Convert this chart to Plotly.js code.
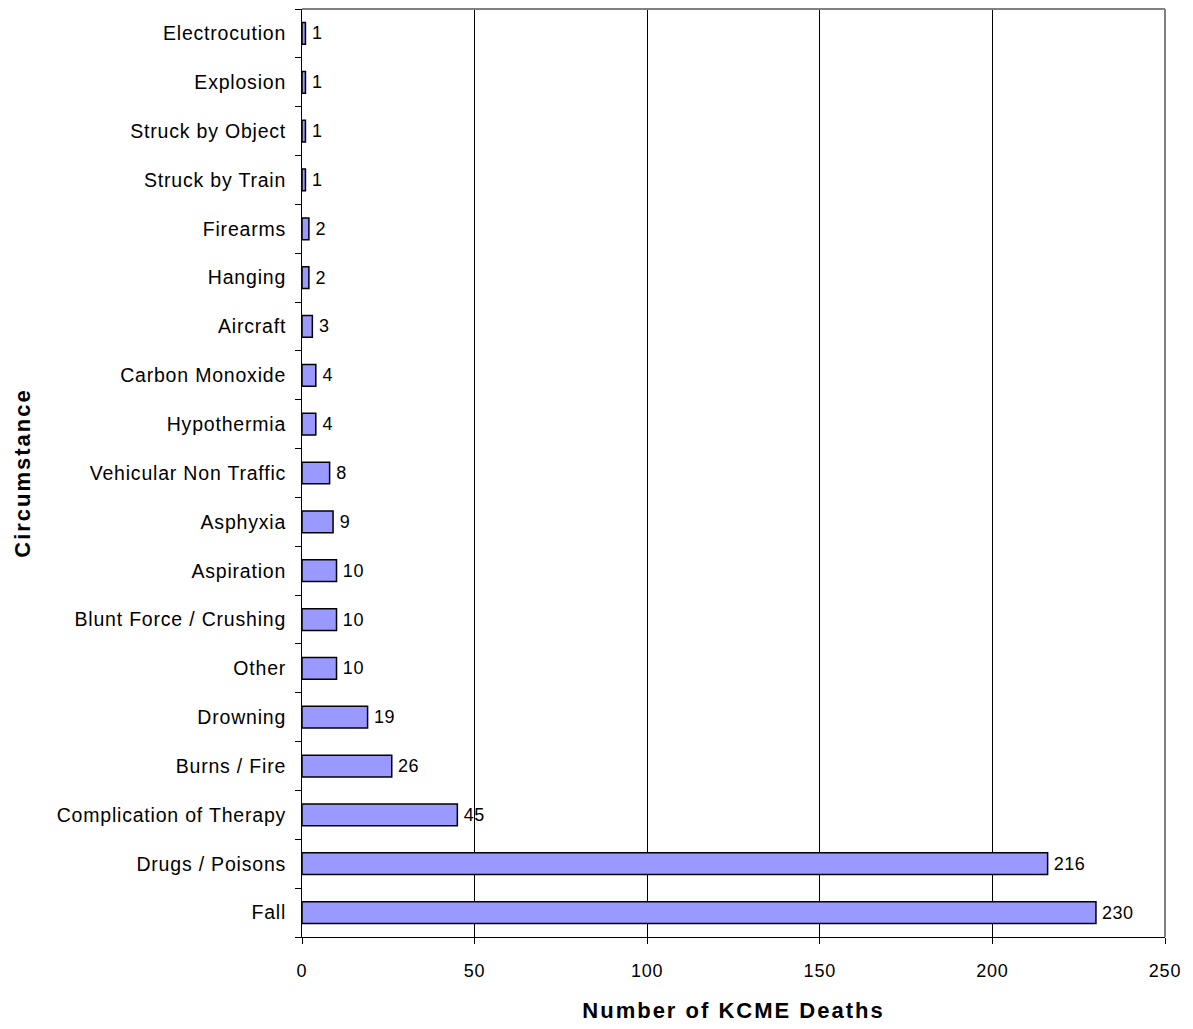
<!DOCTYPE html>
<html>
<head>
<meta charset="utf-8">
<script src="https://cdn.plot.ly/plotly-3.0.1.min.js"></script>
<style>
html,body{margin:0;padding:0;background:#fff;}
#chart{width:1193px;height:1029px;}
#chart .ytick text{letter-spacing:0.8px;}
#chart .xtick text{letter-spacing:0.8px;}
#chart .bartext{letter-spacing:0.5px;}
#chart .xtitle, #chart .ytitle{letter-spacing:2px;}
</style>
</head>
<body>
<div id="chart"></div>
<script>
var categories = ["Fall","Drugs / Poisons","Complication of Therapy","Burns / Fire","Drowning","Other","Blunt Force / Crushing","Aspiration","Asphyxia","Vehicular Non Traffic","Hypothermia","Carbon Monoxide","Aircraft","Hanging","Firearms","Struck by Train","Struck by Object","Explosion","Electrocution"];
var deaths = [230,216,45,26,19,10,10,10,9,8,4,4,3,2,2,1,1,1,1];
var xTicks = [0,50,100,150,200,250];

var trace = {
  type: 'bar',
  orientation: 'h',
  y: categories,
  x: deaths,
  text: deaths.map(function (v) { return '\u2009' + v; }),
  textposition: 'outside',
  constraintext: 'none',
  cliponaxis: false,
  textfont: {family: 'Liberation Sans, Arial, sans-serif', size: 18, color: '#000'},
  marker: {color: '#9999FF', line: {color: '#000', width: 1.5}},
  hoverinfo: 'none'
};

var layout = {
  width: 1193, height: 1029,
  margin: {l: 302, r: 28, t: 9, b: 92},
  paper_bgcolor: '#fff', plot_bgcolor: '#fff',
  bargap: 0.555,
  showlegend: false,
  font: {family: 'Liberation Sans, Arial, sans-serif', size: 18, color: '#000'},
  xaxis: {
    range: [0, 250],
    tickvals: xTicks,
    ticktext: xTicks.map(String),
    showgrid: true, gridcolor: '#000', gridwidth: 1,
    zeroline: false,
    showline: true, linecolor: '#000', linewidth: 1,
    ticks: 'outside', ticklen: 6, tickcolor: '#000',
    ticklabelstandoff: 11,
    tickfont: {size: 18},
    title: {text: '<b>Number of KCME Deaths</b>', font: {size: 22}, standoff: 23},
    automargin: false,
    fixedrange: true
  },
  yaxis: {
    type: 'category',
    categoryorder: 'array', categoryarray: categories,
    showgrid: false, zeroline: false,
    showline: true, linecolor: '#000', linewidth: 1,
    ticks: 'outside', ticklen: 6, tickcolor: '#000',
    tickson: 'boundaries',
    ticklabelstandoff: 11,
    tickfont: {size: 19.5},
    title: {text: '<b>Circumstance</b>', font: {size: 22}, standoff: 38},
    automargin: false,
    fixedrange: true
  },
  shapes: [
    {type: 'line', xref: 'paper', yref: 'paper', x0: 0, x1: 1, y0: 1, y1: 1, line: {color: '#808080', width: 2}},
    {type: 'line', xref: 'paper', yref: 'paper', x0: 1, x1: 1, y0: 0, y1: 1, line: {color: '#808080', width: 2}}
  ]
};

Plotly.newPlot('chart', [trace], layout, {displayModeBar: false, staticPlot: true});
</script>
</body>
</html>
